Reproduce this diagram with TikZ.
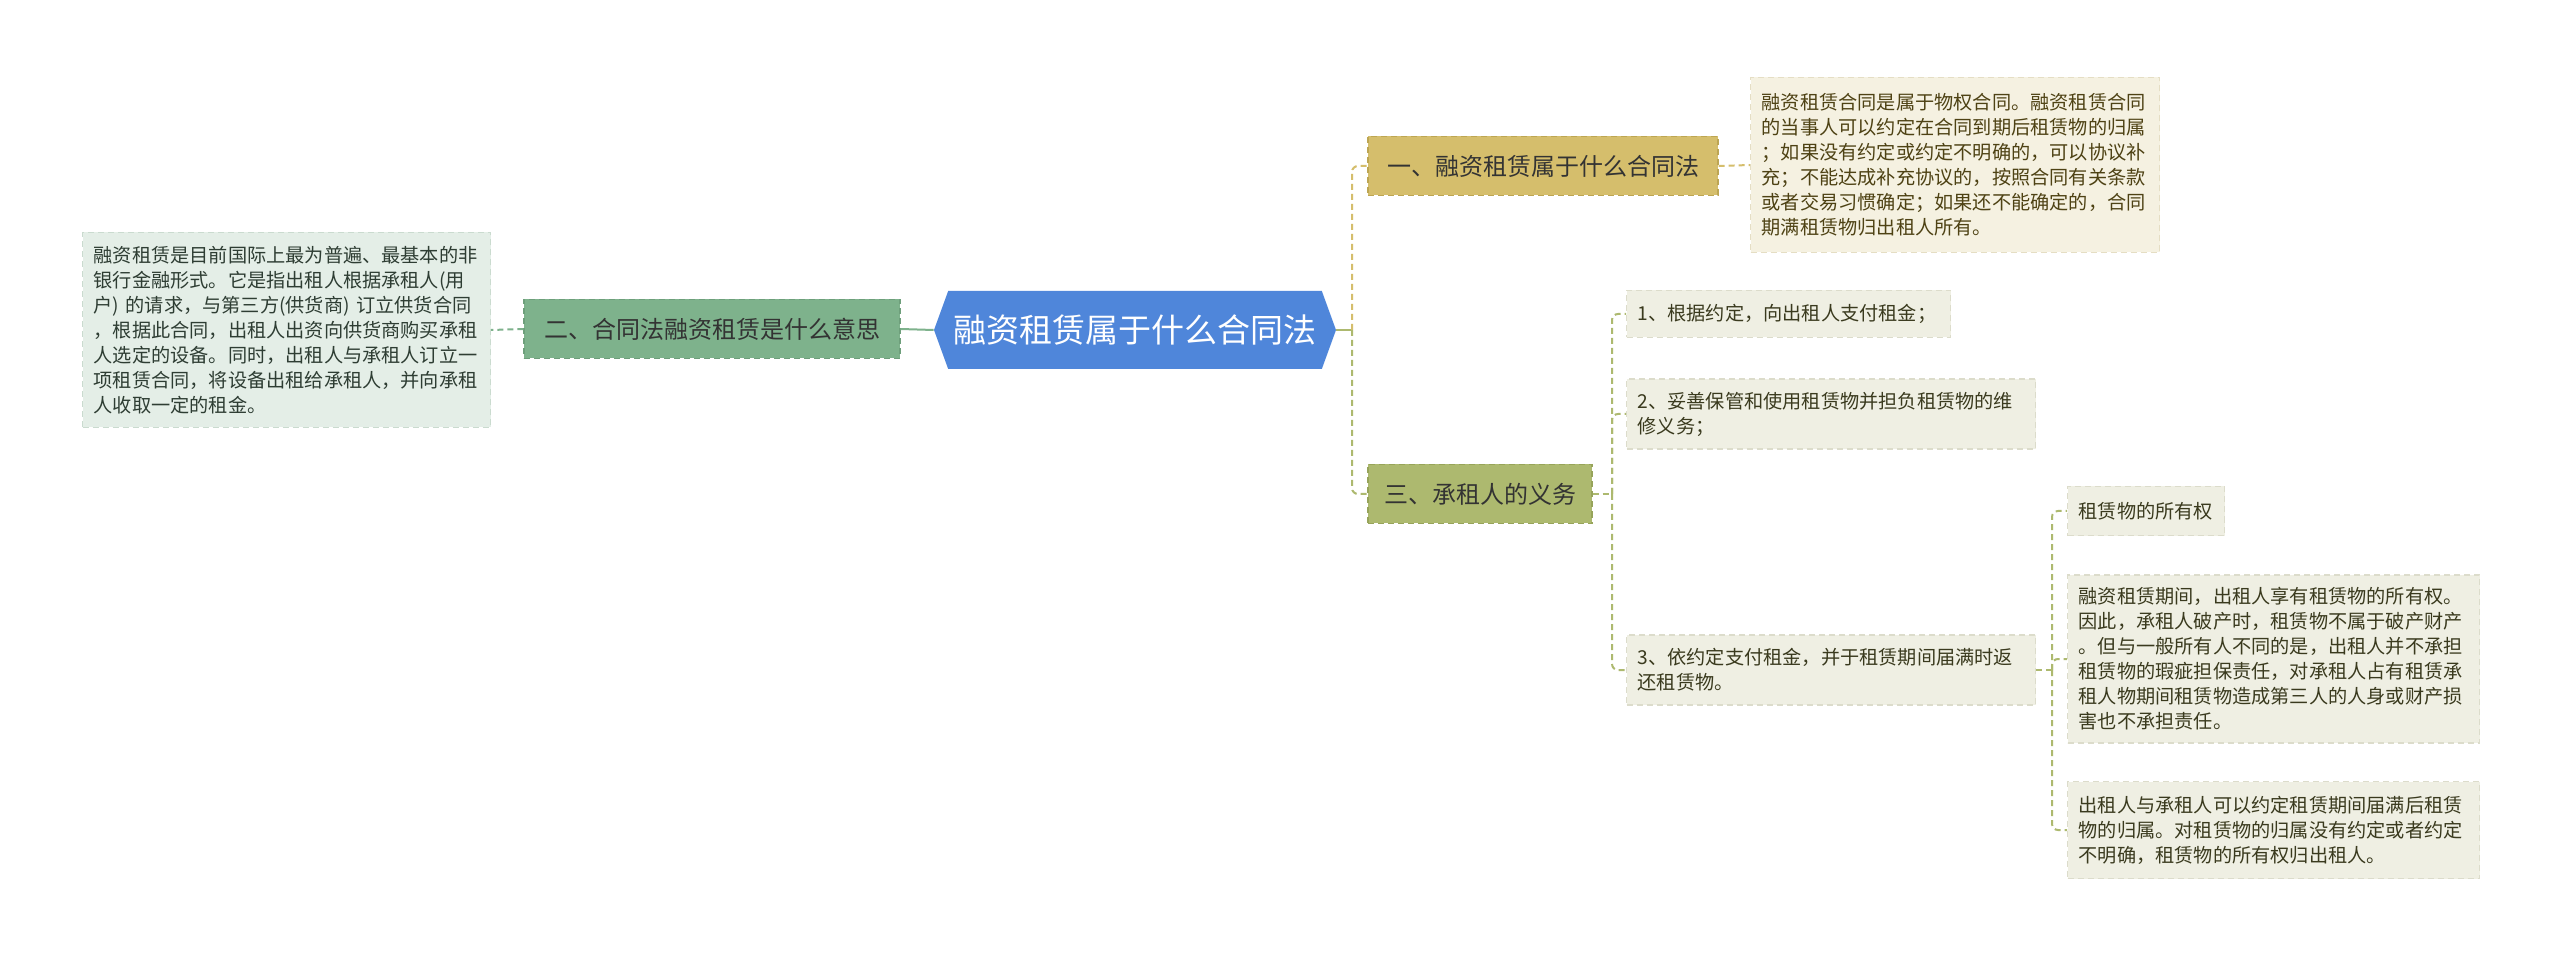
\documentclass[tikz,border=0pt]{standalone}
\usepackage{fontspec}
\setmainfont{Noto Sans CJK SC}
\usetikzlibrary{shapes.symbols}
\definecolor{cblue}{HTML}{4F86DA}
\definecolor{cgreen}{HTML}{7EB28C}
\definecolor{cgreenb}{HTML}{6E9F7B}
\definecolor{cgreenl}{HTML}{E4EEE7}
\definecolor{cgreenlb}{HTML}{CADBCF}
\definecolor{cgold}{HTML}{D5BE6C}
\definecolor{cgoldb}{HTML}{BDA653}
\definecolor{ccream}{HTML}{F5F1E1}
\definecolor{ccreamb}{HTML}{E5DEC4}
\definecolor{colive}{HTML}{ADB96F}
\definecolor{coliveb}{HTML}{97A45A}
\definecolor{citem}{HTML}{EFEFE3}
\definecolor{citemb}{HTML}{DCDCCB}
\definecolor{ctxt}{HTML}{333333}
\definecolor{ctxtg}{HTML}{2E3D33}
\definecolor{ctxtb}{HTML}{4E4214}
\definecolor{ctxto}{HTML}{3A3A1E}
\begin{document}
\begin{tikzpicture}[x=0.5pt,y=-0.5pt,
  box/.style={draw, dash pattern=on 3pt off 2pt, line width=0.6pt, inner sep=0pt},
  lvlone/.style={box, minimum height=29.5pt, font=\fontsize{12pt}{14pt}\selectfont, text=ctxt},
  txtbox/.style={box, anchor=west, align=left, inner xsep=5.5pt, inner ysep=0pt, font=\fontsize{9.6pt}{12.5pt}\selectfont},
  conn/.style={line width=1pt},
  dconn/.style={line width=1pt, dash pattern=on 3pt off 2pt, rounded corners=3pt}]
\useasboundingbox (0,0) rectangle (2560,962);
\fill[white] (0,0) rectangle (2560,962);

% central
\node[signal, signal to=west and east, signal pointer angle=140, fill=cblue, text=white,
  minimum width=201pt, minimum height=39pt, inner sep=0pt,
  font=\fontsize{16.5pt}{20pt}\selectfont] (c) at (1135,330) {融资租赁属于什么合同法};

% left branch
\node[lvlone, fill=cgreen, draw=cgreenb, minimum width=188pt] (n2) at (712,329) {二、合同法融资租赁是什么意思};
\node[txtbox, fill=cgreenl, draw=cgreenlb, text=ctxtg, text width=193pt, minimum height=97.5pt] (L) at (82,330)
{融资租赁是目前国际上最为普遍、最基本的非\\银行金融形式。它是指出租人根据承租人(用\\户) 的请求，与第三方(供货商) 订立供货合同\\，根据此合同，出租人出资向供货商购买承租\\人选定的设备。同时，出租人与承租人订立一\\项租赁合同，将设备出租给承租人，并向承租\\人收取一定的租金。};

% right upper branch
\node[lvlone, fill=cgold, draw=cgoldb, minimum width=175pt] (n1) at (1543,166) {一、融资租赁属于什么合同法};
\node[txtbox, fill=ccream, draw=ccreamb, text=ctxtb, text width=193.5pt, minimum height=87.5pt] (TR) at (1750,165)
{融资租赁合同是属于物权合同。融资租赁合同\\的当事人可以约定在合同到期后租赁物的归属\\；如果没有约定或约定不明确的，可以协议补\\充；不能达成补充协议的，按照合同有关条款\\或者交易习惯确定；如果还不能确定的，合同\\期满租赁物归出租人所有。};

% right lower branch
\node[lvlone, fill=colive, draw=coliveb, minimum width=112pt] (n3) at (1480,494) {三、承租人的义务};
\node[txtbox, fill=citem, draw=citemb, text=ctxto, text width=151pt, minimum height=23.5pt] (i1) at (1626,314)
{1、根据约定，向出租人支付租金；};
\node[txtbox, fill=citem, draw=citemb, text=ctxto, text width=193.5pt, minimum height=35pt] (i2) at (1626,414)
{2、妥善保管和使用租赁物并担负租赁物的维\\修义务；};
\node[txtbox, fill=citem, draw=citemb, text=ctxto, text width=193.5pt, minimum height=35pt] (i3) at (1626,670)
{3、依约定支付租金，并于租赁期间届满时返\\还租赁物。};

\node[txtbox, fill=citem, draw=citemb, text=ctxto, text width=67.5pt, minimum height=24.5pt] (sa) at (2067,511)
{租赁物的所有权};
\node[txtbox, fill=citem, draw=citemb, text=ctxto, text width=195pt, minimum height=84pt] (sb) at (2067,659)
{融资租赁期间，出租人享有租赁物的所有权。\\因此，承租人破产时，租赁物不属于破产财产\\。但与一般所有人不同的是，出租人并不承担\\租赁物的瑕疵担保责任，对承租人占有租赁承\\租人物期间租赁物造成第三人的人身或财产损\\害也不承担责任。};
\node[txtbox, fill=citem, draw=citemb, text=ctxto, text width=195pt, minimum height=48.5pt] (sc) at (2067,830)
{出租人与承租人可以约定租赁期间届满后租赁\\物的归属。对租赁物的归属没有约定或者约定\\不明确，租赁物的所有权归出租人。};

% connectors
\coordinate (t1) at (1352,330);
\coordinate (t2) at (1612,494);
\coordinate (t3) at (2052,670);
\draw[conn, cgreen] (c.west) -- (n2.east);
\draw[dconn, cgreen] (n2.west) -- (L.east);
\draw[conn, colive] (c.east) -- (t1);
\draw[dconn, cgold] (t1) |- (n1.west);
\draw[dconn, colive] (t1) |- (n3.west);
\draw[dconn, cgold] (n1.east) -- (TR.west);
\draw[dconn, colive] (n3.east) -- (t2);
\draw[dconn, colive] (t2) |- (i1.west);
\draw[dconn, colive] (t2) |- (i2.west);
\draw[dconn, colive] (t2) |- (i3.west);
\draw[dconn, colive] (i3.east) -- (t3);
\draw[dconn, colive] (t3) |- (sa.west);
\draw[dconn, colive] (t3) |- (sb.west);
\draw[dconn, colive] (t3) |- (sc.west);
\end{tikzpicture}
\end{document}
